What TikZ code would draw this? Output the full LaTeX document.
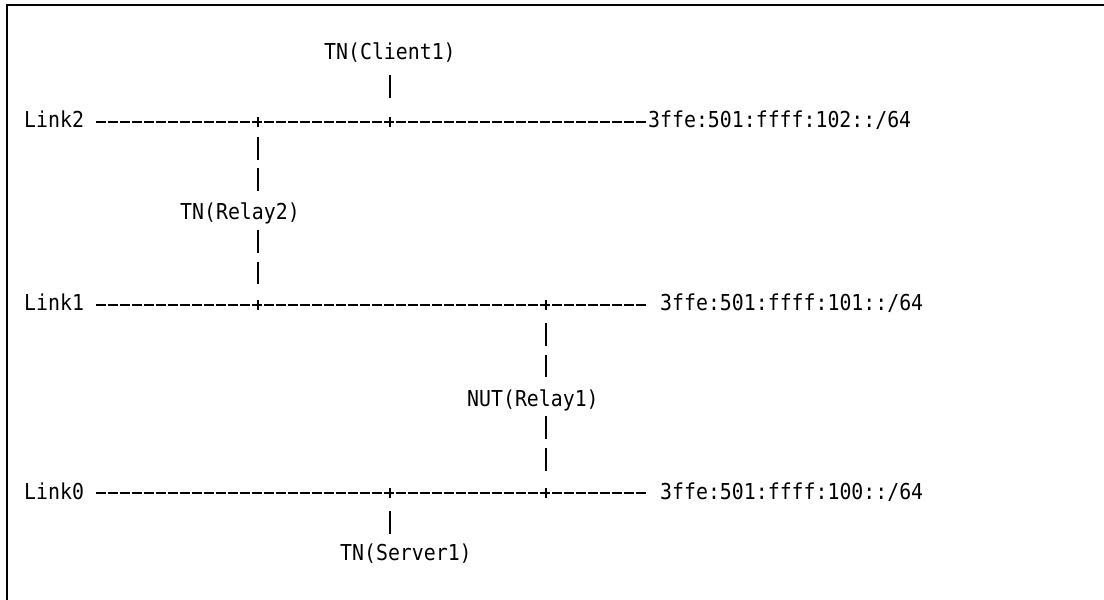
\documentclass[tikz,border=0pt]{standalone}
\usepackage{fontspec}
\setmonofont[FakeStretch=0.906]{DejaVu Sans Mono}
\usepackage{tikz}

\begin{document}
\begin{tikzpicture}[
    x=1bp, y=-1bp,                  % pixel grid, y grows downwards
    every node/.style={font=\ttfamily\fontsize{22}{26}\selectfont,
      inner sep=0pt, text height=16bp, text depth=4bp, anchor=base west},
    linkline/.style={line width=1.5bp, dash pattern=on 10bp off 2bp},  % the ---- of a link
    dropline/.style={line width=1.5bp, dash pattern=on 23bp off 8.5bp}, % the | | of a host
    crossing/.style={line width=1.5bp},  % the + on a link
    frameline/.style={line width=2bp}
  ]
  \useasboundingbox (0,0) rectangle (1104,600);
  % frame (only top and left edge are visible)
  \draw[frameline] (7,600) -- (7,5) -- (1104,5);

  % links and prefixes
  \node (link2) at (24,128) {Link2};
  \node (link1) at (24,311) {Link1};
  \node (link0) at (24,499) {Link0};
  \node (addr2) at (648,128) {3ffe:501:ffff:102::/64};
  \node (addr1) at (660,311) {3ffe:501:ffff:101::/64};
  \node (addr0) at (660,499) {3ffe:501:ffff:100::/64};

  \draw[linkline] ([xshift=12bp]link2.east) -- (addr2.west);
  \draw[linkline] ([xshift=12bp]link1.east) -- ([xshift=-12bp]addr1.west);
  \draw[linkline] ([xshift=12bp]link0.east) -- ([xshift=-12bp]addr0.west);

  % attachment points on the links
  \coordinate (l2a) at (258,122);
  \coordinate (l2b) at (390,122);
  \coordinate (l1a) at (258,305);
  \coordinate (l1b) at (546,305);
  \coordinate (l0a) at (390,493);
  \coordinate (l0b) at (546,493);
  \foreach \c in {l2a,l2b,l1a,l1b,l0a,l0b}
    \draw[crossing] ([yshift=5bp]\c) -- ([yshift=-5bp]\c);

  % hosts
  \node (client1) at (324,60) {TN(Client1)};
  \node (relay2) at (180,220) {TN(Relay2)};
  \node (relay1) at (467,406) {NUT(Relay1)};
  \node (server1) at (340,560) {TN(Server1)};

  \draw[dropline, shorten <=11bp, shorten >=24bp] (l2b |- client1.south) -- (l2b);
  \draw[dropline, shorten <=15bp, shorten >=12.5bp] (l2a) -- (l2a |- relay2.north);
  \draw[dropline, shorten <=6bp, shorten >=20.5bp] (l1a |- relay2.south) -- (l1a);
  \draw[dropline, shorten <=18bp, shorten >=12.5bp] (l1b) -- (l1b |- relay1.north);
  \draw[dropline, shorten <=6bp, shorten >=22.5bp] (l0b |- relay1.south) -- (l0b);
  \draw[dropline, shorten <=18bp, shorten >=10bp] (l0a) -- (l0a |- server1.north);
\end{tikzpicture}
\end{document}
